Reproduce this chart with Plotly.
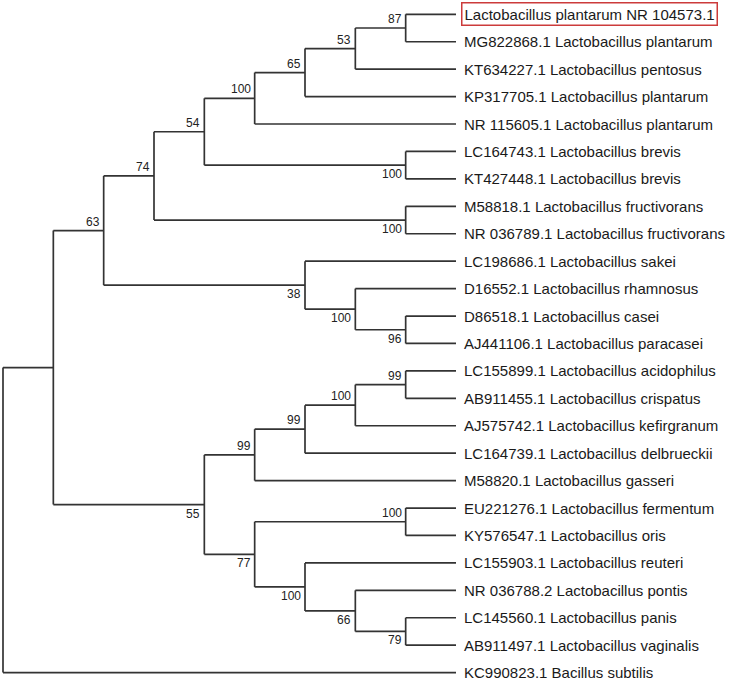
import plotly.graph_objects as go

# ---------------- data ----------------
leaf_labels = [
    "Lactobacillus plantarum NR 104573.1",
    "MG822868.1 Lactobacillus plantarum",
    "KT634227.1 Lactobacillus pentosus",
    "KP317705.1 Lactobacillus plantarum",
    "NR 115605.1 Lactobacillus plantarum",
    "LC164743.1 Lactobacillus brevis",
    "KT427448.1 Lactobacillus brevis",
    "M58818.1 Lactobacillus fructivorans",
    "NR 036789.1 Lactobacillus fructivorans",
    "LC198686.1 Lactobacillus sakei",
    "D16552.1 Lactobacillus rhamnosus",
    "D86518.1 Lactobacillus casei",
    "AJ441106.1 Lactobacillus paracasei",
    "LC155899.1 Lactobacillus acidophilus",
    "AB911455.1 Lactobacillus crispatus",
    "AJ575742.1 Lactobacillus kefirgranum",
    "LC164739.1 Lactobacillus delbrueckii",
    "M58820.1 Lactobacillus gasseri",
    "EU221276.1 Lactobacillus fermentum",
    "KY576547.1 Lactobacillus oris",
    "LC155903.1 Lactobacillus reuteri",
    "NR 036788.2 Lactobacillus pontis",
    "LC145560.1 Lactobacillus panis",
    "AB911497.1 Lactobacillus vaginalis",
    "KC990823.1 Bacillus subtilis",
]
highlighted_leaf = 0

# tree topology (leaf indices) with bootstrap support values
newick = ("(((((((((0,1)87,2)53,3)65,4)100,(5,6)100)54,(7,8)100)74,"
          "(9,(10,(11,12)96)100)38)63,"
          "(((((13,14)99,15)100,16)99,17)99,"
          "((18,19)100,(20,(21,(22,23)79)66)100)77)55),24);")


# ---------------- parse ----------------
def parse(s):
    pos = 0

    def node():
        nonlocal pos
        if s[pos] == "(":
            pos += 1
            children = [node()]
            while s[pos] == ",":
                pos += 1
                children.append(node())
            assert s[pos] == ")"
            pos += 1
            start = pos
            while pos < len(s) and s[pos] not in ",);":
                pos += 1
            lab = s[start:pos]
            return {"children": children, "support": lab}
        start = pos
        while s[pos] not in ",);":
            pos += 1
        return {"children": [], "leaf": int(s[start:pos])}

    return node()


root = parse(newick)


def height(n):
    if not n["children"]:
        n["h"] = 0
    else:
        n["h"] = 1 + max(height(c) for c in n["children"])
    return n["h"]


H = height(root)


def layout(n):
    n["x"] = H - n["h"]
    if not n["children"]:
        n["y"] = n["leaf"]
    else:
        for c in n["children"]:
            layout(c)
        n["y"] = (n["children"][0]["y"] + n["children"][-1]["y"]) / 2


layout(root)

xs, ys = [], []
annotations = []
LINE = "#333333"
FONT = "Liberation Sans, Arial, sans-serif"


def draw(n):
    if not n["children"]:
        return
    xs.extend([n["x"], n["x"], None])
    ys.extend([n["children"][0]["y"], n["children"][-1]["y"], None])
    for k, c in enumerate(n["children"]):
        xs.extend([n["x"], c["x"], None])
        ys.extend([c["y"], c["y"], None])
        if c["children"] and c.get("support"):
            annotations.append(dict(
                x=c["x"], y=c["y"], xref="x", yref="y",
                text=c["support"], showarrow=False,
                xanchor="right", yanchor="bottom" if k == 0 else "top",
                xshift=-2, yshift=0,
                font=dict(family=FONT, size=12, color="#222222"),
            ))
        draw(c)


draw(root)

for i, lab in enumerate(leaf_labels):
    hl = i == highlighted_leaf
    annotations.append(dict(
        x=H, y=i, xref="x", yref="y", text=lab, showarrow=False,
        xanchor="left", yanchor="middle",
        xshift=4.5 if hl else 6,
        font=dict(family=FONT, size=15, color="#1a1a1a"),
        bordercolor="#cc3b3b" if hl else "rgba(0,0,0,0)",
        borderwidth=1.5 if hl else 1,
        borderpad=2 if hl else 1,
    ))

fig = go.Figure(go.Scatter(
    x=xs, y=ys, mode="lines",
    line=dict(color=LINE, width=1.7),
    hoverinfo="skip", showlegend=False,
))

step_px = (456 - 3) / H
row_px = 27.43
fig.update_layout(
    width=740, height=679,
    margin=dict(l=0, r=0, t=0, b=0),
    paper_bgcolor="white", plot_bgcolor="white",
    annotations=annotations,
    xaxis=dict(range=[-3 / step_px, (740 - 3) / step_px], visible=False,
               showgrid=False, zeroline=False),
    yaxis=dict(range=[(679 - 14.3) / row_px, -14.3 / row_px], visible=False,
               showgrid=False, zeroline=False),
)

fig.write_html(
    "out.html",
    config={"displayModeBar": False, "staticPlot": True},
    post_script="document.body.style.margin='0';document.body.style.overflow='hidden';",
)
